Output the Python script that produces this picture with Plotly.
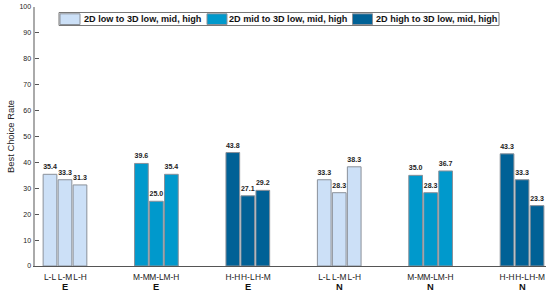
import plotly.graph_objects as go

# ---- data ----
groups = ["E", "E", "E", "N", "N", "N"]
bar_labels = [
    ["L-L", "L-M", "L-H"],
    ["M-M", "M-L", "M-H"],
    ["H-H", "H-L", "H-M"],
    ["L-L", "L-M", "L-H"],
    ["M-M", "M-L", "M-H"],
    ["H-H", "H-L", "H-M"],
]
values = [
    [35.4, 33.3, 31.3],
    [39.6, 25.0, 35.4],
    [43.8, 27.1, 29.2],
    [33.3, 28.3, 38.3],
    [35.0, 28.3, 36.7],
    [43.3, 33.3, 23.3],
]
series_names = ["2D low to 3D low, mid, high",
                "2D mid to 3D low, mid, high",
                "2D high to 3D low, mid, high"]
series_of_group = [0, 1, 2, 0, 1, 2]
colors = ["#cce0f7", "#0099cc", "#006196"]
y_ticks = [0, 10, 20, 30, 40, 50, 60, 70, 80, 90, 100]

W, H = 548, 304
ML, MR, MT, MB = 35, 2, 7, 38
PW, PH = W - ML - MR, H - MT - MB

offsets = [-0.164, 0.0, 0.164]
bw = 0.15

fig = go.Figure()
tickvals, ticktext = [], []
for g, (vals, labs) in enumerate(zip(values, bar_labels)):
    s = series_of_group[g]
    xs = [g + o for o in offsets]
    tickvals += xs
    ticktext += labs
    fig.add_trace(go.Bar(
        x=xs, y=vals, width=bw,
        marker=dict(color=colors[s], line=dict(color="#8a9099", width=1)),
        text=[f"{v:.1f}" for v in vals],
        textposition="outside",
        textfont=dict(family="Liberation Sans", size=7.2, color="#222222", weight="bold"),
        cliponaxis=False,
        showlegend=False,
        hoverinfo="skip",
    ))

def px_x(p):
    return (p - ML) / PW

def px_y(p):
    return 1 - (p - MT) / PH

shapes = []
annotations = []

# group labels
for g, lab in enumerate(groups):
    annotations.append(dict(
        x=g, y=px_y(287), xref="x", yref="paper", text=lab, showarrow=False,
        font=dict(family="Liberation Sans", size=9.3, color="#111111", weight="bold"),
        xanchor="center", yanchor="middle"))

# legend (box + swatches + text)
shapes.append(dict(type="rect", xref="paper", yref="paper",
                   x0=px_x(59), x1=px_x(499), y0=px_y(25.5), y1=px_y(12.5),
                   line=dict(color="#777777", width=1), fillcolor="white", layer="above"))
legend_items = [(60, 82.5), (207, 228), (352.5, 374.5)]
for (sx, tx), name, col in zip(legend_items, series_names, colors):
    shapes.append(dict(type="rect", xref="paper", yref="paper",
                       x0=px_x(sx), x1=px_x(sx + 20), y0=px_y(24.5), y1=px_y(13.8),
                       line=dict(color="#8a9099", width=1), fillcolor=col, layer="above"))
    annotations.append(dict(
        x=px_x(tx), y=px_y(19), xref="paper", yref="paper", text=name, showarrow=False,
        font=dict(family="Liberation Sans", size=9.1, color="#111111", weight="bold"),
        xanchor="left", yanchor="middle", xshift=-1))

fig.update_layout(
    width=W, height=H,
    margin=dict(l=ML, r=MR, t=MT, b=MB, pad=0, autoexpand=False),
    paper_bgcolor="white", plot_bgcolor="white",
    bargap=0, barmode="overlay",
    shapes=shapes, annotations=annotations,
    font=dict(family="Liberation Sans"),
)
fig.update_xaxes(
    range=[-0.328, 5.262],
    tickvals=tickvals, ticktext=ticktext, tickangle=0,
    tickfont=dict(family="Liberation Sans", size=8.4, color="#222222"),
    ticks="", showgrid=False, zeroline=False,
    showline=True, linecolor="#555555", linewidth=1,
    ticklabelstandoff=3, automargin=False,
)
fig.update_yaxes(
    range=[0, 100], tickvals=y_ticks,
    tickfont=dict(family="Liberation Sans", size=7, color="#222222"),
    ticks="inside", ticklen=4, tickcolor="#555555", tickwidth=1,
    showgrid=False, zeroline=False,
    showline=True, linecolor="#aaaaaa", linewidth=2.5, automargin=False,
    title=dict(text="Best Choice Rate", standoff=3,
               font=dict(family="Liberation Sans", size=9.4, color="#222222")),
)

fig.write_html("out.html",
               config={"displayModeBar": False, "staticPlot": True},
               post_script="document.body.style.margin='0px';document.body.style.overflow='hidden';")
